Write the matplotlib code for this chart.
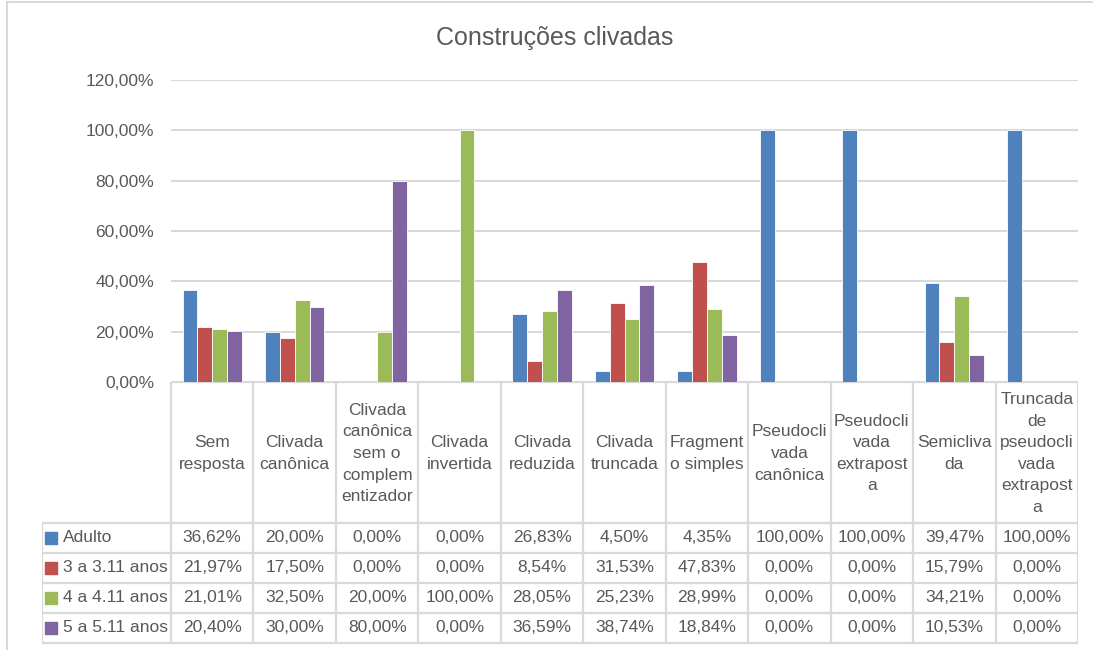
import numpy as np
import matplotlib.pyplot as plt
from matplotlib.patches import Rectangle

plt.rcParams['font.family'] = ['Liberation Sans', 'DejaVu Sans']

# categories (as wrapped in the source chart) and series values in %
categories = ['Sem\nresposta', 'Clivada\ncanônica', 'Clivada\ncanônica\nsem o\ncomplem\nentizador',
              'Clivada\ninvertida', 'Clivada\nreduzida', 'Clivada\ntruncada', 'Fragment\no simples',
              'Pseudocli\nvada\ncanônica', 'Pseudocli\nvada\nextrapost\na', 'Semicliva\nda',
              'Truncada\nde\npseudocli\nvada\nextrapost\na']
series_names = ['Adulto', '3 a 3.11 anos', '4 a 4.11 anos', '5 a 5.11 anos']
adulto = [36.62, 20.00, 0.00, 0.00, 26.83, 4.50, 4.35, 100.00, 100.00, 39.47, 100.00]
anos3 = [21.97, 17.50, 0.00, 0.00, 8.54, 31.53, 47.83, 0.00, 0.00, 15.79, 0.00]
anos4 = [21.01, 32.50, 20.00, 100.00, 28.05, 25.23, 28.99, 0.00, 0.00, 34.21, 0.00]
anos5 = [20.40, 30.00, 80.00, 0.00, 36.59, 38.74, 18.84, 0.00, 0.00, 10.53, 0.00]
colors = ['#4f81bd', '#c0504d', '#9bbb59', '#8064a2']

series = [adulto, anos3, anos4, anos5]
W, H = 1093, 650
txt = '#595959'
grid = '#d9d9d9'
fs = 12.5

fig = plt.figure(figsize=(W / 100, H / 100), dpi=100)

def px_rect(x0, y0, x1, y1):
    return [x0 / W, 1 - y1 / H, (x1 - x0) / W, (y1 - y0) / H]

# outer chart frame
fig.patches.append(Rectangle((7 / W, -0.1), 1.2, 1 - 2.5 / H + 0.1, transform=fig.transFigure,
                             fill=False, edgecolor=grid, lw=1.5))

ax = fig.add_axes(px_rect(171, 80, 1078, 382))
n = len(categories)
x = np.arange(n)
bw = 0.18
for i, (vals, c) in enumerate(zip(series, colors)):
    ax.bar(x + (i - 1.5) * bw, np.array(vals) / 100, bw, color=c, edgecolor='white', lw=0.6, zorder=3)
ax.set_xlim(-0.5, n - 0.5)
ax.set_ylim(0, 1.2)
yt = np.arange(0, 1.21, 0.2)
ax.set_yticks(yt)
ax.set_yticklabels([f'{v * 100:.2f}%'.replace('.', ',') for v in yt], color=txt, fontsize=fs)
ax.tick_params(axis='y', length=0, pad=12)
ax.set_xticks([])
ax.grid(axis='y', color=grid, lw=1.5, zorder=0)
for s in ax.spines.values():
    s.set_visible(False)

fig.text(555 / W, 1 - 38 / H, 'Construções clivadas', ha='center', va='center', fontsize=18, color=txt)

# data table below the plot
leg_w = (171 - 42) / ((1078 - 171) / n)
tab = fig.add_axes(px_rect(42, 382, 1078, 645))
tab.set_xlim(-0.5 - leg_w, n - 0.5)
tab.set_ylim(645, 382)
tab.axis('off')
row_top = 523
row_h = 30
lk = dict(color=grid, lw=1.6, solid_capstyle='projecting')
tab.plot([-0.5, n - 0.5], [382, 382], **lk)
for k in range(n + 1):
    tab.plot([k - 0.5, k - 0.5], [382, row_top + 4 * row_h], **lk)
tab.plot([-0.5 - leg_w, -0.5 - leg_w], [row_top, row_top + 4 * row_h], **lk)
for r in range(5):
    tab.plot([-0.5 - leg_w, n - 0.5], [row_top + r * row_h] * 2, **lk)
for k, lab in enumerate(categories):
    tab.text(k, (382 + row_top) / 2 + 1, lab, ha='center', va='center', fontsize=fs,
             color=txt, linespacing=1.55)
for r, (name, vals, c) in enumerate(zip(series_names, series, colors)):
    yc = row_top + (r + 0.5) * row_h
    tab.scatter([-0.5 - leg_w + 0.11], [yc], marker='s', s=70, color=c)
    tab.text(-0.5 - leg_w + 0.26, yc, name, ha='left', va='center', fontsize=fs, color=txt)
    for k, v in enumerate(vals):
        tab.text(k, yc, f'{v:.2f}%'.replace('.', ','), ha='center', va='center',
                 fontsize=fs, color=txt)

fig.savefig('out.png', dpi=100, facecolor='white')
